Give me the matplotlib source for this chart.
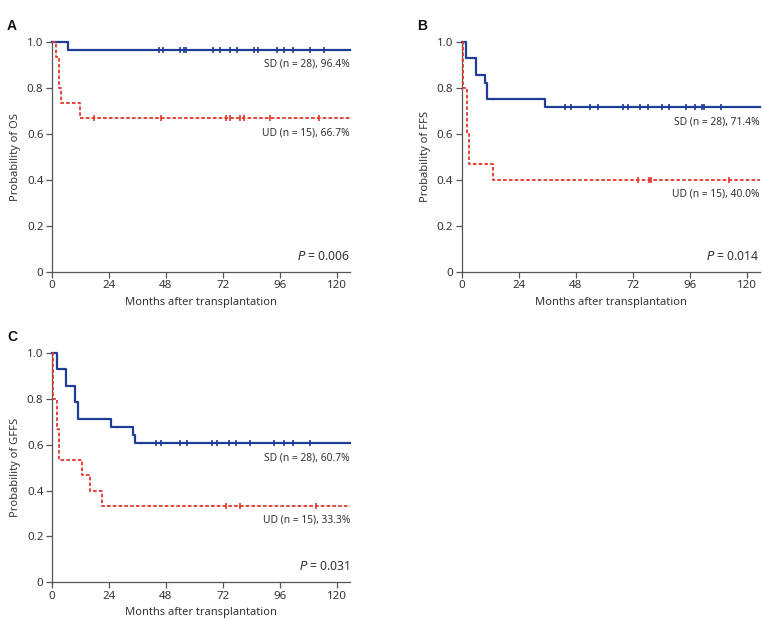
import matplotlib.pyplot as plt
import numpy as np

plt.rcParams['font.family'] = ['Noto Sans', 'DejaVu Sans']

BLUE = '#1f3c96'
RED = '#e2372b'

# Panel A: OS
os_sd_times = [7.0]
os_sd_surv = [0.964]
os_sd_cens = [45.1, 46.9, 53.9, 55.7, 56.4, 67.9, 70.8, 74.9, 77.8, 84.9,
              86.8, 94.7, 97.7, 101.7, 108.6, 114.5]
os_ud_times = [1.8, 3.2, 3.9, 11.9]
os_ud_surv = [0.933, 0.800, 0.733, 0.667]
os_ud_cens = [17.8, 45.8, 73.5, 74.9, 79.3, 80.9, 91.9, 112.6]

# Panel B: FFS
ffs_sd_times = [1.8, 5.9, 10.0, 10.8, 34.9]
ffs_sd_surv = [0.929, 0.857, 0.821, 0.750, 0.714]
ffs_sd_cens = [43.6, 45.9, 53.9, 57.2, 68.0, 70.0, 75.2, 78.3, 84.2, 87.1,
               94.2, 98.3, 101.1, 102.1, 109.2]
ffs_ud_times = [0.7, 2.1, 3.1, 13.0]
ffs_ud_surv = [0.800, 0.600, 0.467, 0.400]
ffs_ud_cens = [74.0, 78.8, 79.8, 112.3]

# Panel C: GFFS
gffs_sd_times = [2.1, 6.0, 9.9, 10.9, 25.0, 34.0, 35.0]
gffs_sd_surv = [0.929, 0.857, 0.786, 0.714, 0.679, 0.643, 0.607]
gffs_sd_cens = [43.7, 45.8, 53.9, 56.7, 67.6, 69.5, 74.6, 77.7, 83.5, 93.5,
                97.5, 101.6, 108.5]
gffs_ud_times = [0.7, 2.1, 3.1, 12.9, 16.1, 21.0]
gffs_ud_surv = [0.800, 0.667, 0.533, 0.467, 0.400, 0.333]
gffs_ud_cens = [73.5, 79.3, 111.3]

x_end = 125.5
x_ticks = [0, 24, 48, 72, 96, 120]
y_ticks = [0, 0.2, 0.4, 0.6, 0.8, 1.0]
y_ticklabels = ['0', '0.2', '0.4', '0.6', '0.8', '1.0']


def surv_at(t, times, surv):
    s = 1.0
    for ti, si in zip(times, surv):
        if ti <= t:
            s = si
    return s


def km(ax, times, surv, cens, color, ls):
    x = [0] + times + [x_end]
    y = [1.0] + surv + [surv[-1]]
    ax.step(x, y, where='post', color=color, lw=1.6 if ls == '-' else 1.3,
            ls=ls, clip_on=False, zorder=3)
    cy = [surv_at(c, times, surv) for c in cens]
    ax.plot(cens, cy, ls='none', marker='|', ms=5, mew=1.2, color=color,
            zorder=4)


def panel(rect, letter, ylabel, sd, ud, sd_txt, ud_txt, ptxt):
    ax = fig.add_axes(rect)
    km(ax, *sd, BLUE, '-')
    km(ax, *ud, RED, (0, (2, 1.2)))
    ax.set_xlim(0, x_end)
    ax.set_ylim(0, 1)
    ax.set_xticks(x_ticks)
    ax.set_yticks(y_ticks)
    ax.set_yticklabels(y_ticklabels)
    for s in ['top', 'right']:
        ax.spines[s].set_visible(False)
    for s in ['left', 'bottom']:
        ax.spines[s].set_color('#555555')
        ax.spines[s].set_linewidth(0.9)
    ax.tick_params(length=4, width=0.9, color='#555555', labelsize=8.3,
                   labelcolor='#333333', pad=2)
    ax.set_xlabel('Months after transplantation', fontsize=8, color='#333333',
                  labelpad=4)
    ax.set_ylabel(ylabel, fontsize=8, color='#333333', labelpad=4)
    ax.text(x_end, sd[1][-1] - 0.063, sd_txt, ha='right', va='center',
            fontsize=7.4, color='#333333')
    ax.text(x_end, ud[1][-1] - 0.063, ud_txt, ha='right', va='center',
            fontsize=7.4, color='#333333')
    ax.text(x_end, 0.068, r'$\it{P}$ = ' + ptxt, ha='right', va='center',
            fontsize=8.8, color='#333333')
    ax.text(-0.15, 1.07, letter, transform=ax.transAxes, fontsize=10,
            fontweight='bold', family='Liberation Sans', color='#111111',
            ha='left', va='center')
    return ax


fig = plt.figure(figsize=(7.63, 6.2), dpi=100)

panel([0.0678, 0.5618, 0.391, 0.371], 'A', 'Probability of OS',
      (os_sd_times, os_sd_surv, os_sd_cens),
      (os_ud_times, os_ud_surv, os_ud_cens),
      'SD (n = 28), 96.4%', 'UD (n = 15), 66.7%', '0.006')
panel([0.605, 0.5618, 0.391, 0.371], 'B', 'Probability of FFS',
      (ffs_sd_times, ffs_sd_surv, ffs_sd_cens),
      (ffs_ud_times, ffs_ud_surv, ffs_ud_cens),
      'SD (n = 28), 71.4%', 'UD (n = 15), 40.0%', '0.014')
panel([0.0678, 0.0608, 0.391, 0.370], 'C', 'Probability of GFFS',
      (gffs_sd_times, gffs_sd_surv, gffs_sd_cens),
      (gffs_ud_times, gffs_ud_surv, gffs_ud_cens),
      'SD (n = 28), 60.7%', 'UD (n = 15), 33.3%', '0.031')

fig.savefig('out.png', dpi=100)
